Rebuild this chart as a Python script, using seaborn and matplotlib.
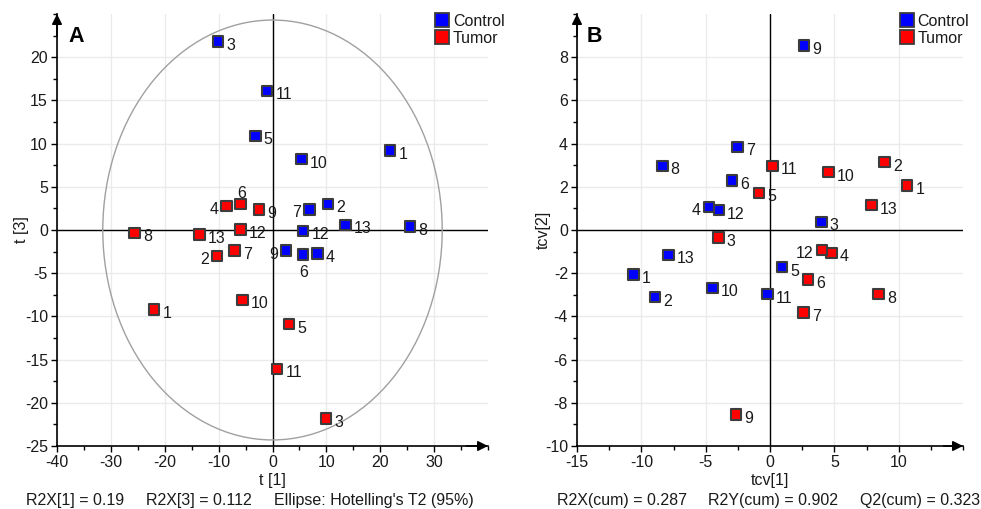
import matplotlib
matplotlib.use("Agg")
import matplotlib.pyplot as plt
from matplotlib.lines import Line2D
from matplotlib.patches import Ellipse
from matplotlib.ticker import MultipleLocator
import seaborn as sns
import pandas as pd

# ---------------- data ----------------
ids = list(range(1, 14))

# Panel A: PCA scores t[1] vs t[3]
a_ctrl_x = [21.8, 10.3, -10.1, 8.4, -3.2, 5.7, 6.9, 25.5, 2.5, 5.4, -1.0, 5.7, 13.5]
a_ctrl_y = [9.2, 3.0, 21.8, -2.7, 10.9, -2.85, 2.4, 0.4, -2.4, 8.2, 16.1, -0.1, 0.6]
a_tum_x = [-22.0, -10.3, 9.9, -8.5, 3.1, -5.9, -7.0, -25.6, -2.5, -5.6, 0.85, -5.9, -13.5]
a_tum_y = [-9.2, -3.0, -21.8, 2.8, -10.9, 3.0, -2.4, -0.35, 2.4, -8.1, -16.1, 0.05, -0.55]
a_ctrl_pos = ["r", "r", "r", "r", "r", "b", "l", "r", "l", "r", "r", "r", "r"]
a_tum_pos = ["r", "l", "r", "l", "r", "a", "r", "r", "r", "r", "r", "r", "r"]
ellipse_rx = 31.5
ellipse_ry = 24.3
a_xticks = [-40, -30, -20, -10, 0, 10, 20, 30]
a_yticks = [-25, -20, -15, -10, -5, 0, 5, 10, 15, 20]

# Panel B: cross-validated scores tcv[1] vs tcv[2]
b_ctrl_x = [-10.6, -8.94, 4.0, -4.75, 0.93, -2.95, -2.53, -8.37, 2.64, -4.47, -0.18, -3.98, -7.88]
b_ctrl_y = [-2.06, -3.11, 0.38, 1.06, -1.72, 2.3, 3.85, 2.97, 8.54, -2.68, -2.97, 0.92, -1.15]
b_tum_x = [10.65, 8.91, -4.0, 4.8, -0.85, 2.95, 2.59, 8.43, -2.64, 4.53, 0.21, 4.03, 7.9]
b_tum_y = [2.07, 3.14, -0.36, -1.06, 1.72, -2.29, -3.83, -2.97, -8.54, 2.68, 2.97, -0.92, 1.15]
b_ctrl_pos = ["r", "r", "r", "l", "r", "r", "r", "r", "r", "r", "r", "r", "r"]
b_tum_pos = ["r", "r", "r", "r", "r", "r", "r", "r", "r", "r", "r", "l", "r"]
b_xticks = [-15, -10, -5, 0, 5, 10]
b_yticks = [-10, -8, -6, -4, -2, 0, 2, 4, 6, 8]

groups = ["Control", "Tumor"]
colors = {"Control": "#0000FF", "Tumor": "#FF0000"}

a_text = ["R2X[1] = 0.19", "R2X[3] = 0.112", "Ellipse: Hotelling's T2 (95%)"]
b_text = ["R2X(cum) = 0.287", "R2Y(cum) = 0.902", "Q2(cum) = 0.323"]


def make_df(cx, cy, cpos, tx, ty, tpos):
    rows = []
    for i, x, y, p in zip(ids, cx, cy, cpos):
        rows.append(dict(x=x, y=y, group="Control", id=i, pos=p))
    for i, x, y, p in zip(ids, tx, ty, tpos):
        rows.append(dict(x=x, y=y, group="Tumor", id=i, pos=p))
    return pd.DataFrame(rows)


df_a = make_df(a_ctrl_x, a_ctrl_y, a_ctrl_pos, a_tum_x, a_tum_y, a_tum_pos)
df_b = make_df(b_ctrl_x, b_ctrl_y, b_ctrl_pos, b_tum_x, b_tum_y, b_tum_pos)

# ---------------- style ----------------
sns.set_theme(style="white")
plt.rcParams["font.family"] = ["Liberation Sans", "DejaVu Sans"]
plt.rcParams["axes.unicode_minus"] = False
FS = 11.5
TXT = "#1a1a1a"

fig = plt.figure(figsize=(9.81, 5.09), dpi=100)
axA = fig.add_axes([57 / 981, 63 / 509, 431 / 981, 432 / 509])
axB = fig.add_axes([577 / 981, 63 / 509, 386 / 981, 432 / 509])

offsets = {"r": (6.0, -2.8, "left", "center"),
           "l": (-6.0, -2.6, "right", "center"),
           "a": (0.5, 7.5, "center", "center"),
           "b": (0.5, -13.0, "center", "center")}


def style_axes(ax, xlim, ylim, xticks, xmin, yticks, ymin, xlab, ylab,
               letter, ypad):
    ax.set_xlim(*xlim)
    ax.set_ylim(*ylim)
    ax.set_xticks(xticks)
    ax.set_yticks(yticks)
    ax.xaxis.set_minor_locator(MultipleLocator(xmin))
    ax.yaxis.set_minor_locator(MultipleLocator(ymin))
    for s in ["top", "right"]:
        ax.spines[s].set_visible(False)
    for s in ["left", "bottom"]:
        ax.spines[s].set_color("black")
        ax.spines[s].set_linewidth(1.2)
    ax.grid(True, which="major", color="#ebebeb", lw=1.0, zorder=0)
    ax.set_axisbelow(True)
    ax.axhline(0, color="black", lw=1.0, zorder=1)
    ax.axvline(0, color="black", lw=1.0, zorder=1)
    ax.tick_params(which="major", direction="out", length=4.5, width=1.0,
                   color="black", labelsize=FS, labelcolor=TXT, pad=2,
                   bottom=True, left=True)
    ax.tick_params(which="minor", direction="out", length=2.8, width=1.0,
                   color="black", bottom=True, left=True)
    ax.set_xlabel(xlab, fontsize=FS, color=TXT, labelpad=2)
    ax.set_ylabel(ylab, fontsize=FS, color=TXT, labelpad=ypad)
    ax.text(0.026, 0.948, letter, transform=ax.transAxes, fontsize=15.5,
            fontweight="bold", color="black", va="center", ha="left")
    # arrow heads
    ax.annotate("", xy=(1.0, 0), xytext=(0.95, 0), xycoords="axes fraction",
                arrowprops=dict(arrowstyle="-|>", color="black", lw=1.2,
                                mutation_scale=15, shrinkA=0, shrinkB=0),
                annotation_clip=False)
    ax.annotate("", xy=(0, 1.0), xytext=(0, 0.95), xycoords="axes fraction",
                arrowprops=dict(arrowstyle="-|>", color="black", lw=1.2,
                                mutation_scale=15, shrinkA=0, shrinkB=0),
                annotation_clip=False)


def draw_points(ax, df):
    sns.scatterplot(data=df, x="x", y="y", hue="group", palette=colors,
                    hue_order=groups, marker="s", s=58, edgecolor="#3c3c3c",
                    linewidth=1.5, legend=False, ax=ax, zorder=3)
    for _, r in df.iterrows():
        dx, dy, ha, va = offsets[r["pos"]]
        ax.annotate(str(r["id"]), (r["x"], r["y"]), xytext=(dx, dy),
                    textcoords="offset points", ha=ha, va=va, fontsize=FS,
                    color=TXT, zorder=4)


def add_legend(ax, xfig, yfig):
    handles = [Line2D([], [], ls="none", marker="s", markersize=9.5,
                      markerfacecolor=colors[g], markeredgecolor="#3c3c3c",
                      markeredgewidth=1.3) for g in groups]
    ax.legend(handles, groups, loc="upper left", bbox_to_anchor=(xfig, yfig),
              bbox_transform=fig.transFigure, frameon=False, borderpad=0,
              borderaxespad=0, handlelength=0.95, handletextpad=0.2,
              labelspacing=0.12, fontsize=FS, labelcolor=TXT)


# Panel A
style_axes(axA, (-40, 40), (-25, 25), a_xticks, 5, a_yticks, 2.5,
           "t [1]", "t [3]", "A", -3)
axA.add_patch(Ellipse((0, 0), 2 * ellipse_rx, 2 * ellipse_ry, fill=False,
                      edgecolor="#a0a0a0", lw=1.0, zorder=2))
draw_points(axA, df_a)
add_legend(axA, 434.5 / 981, 1 - 14 / 509)

# Panel B
style_axes(axB, (-15, 15), (-10, 10), b_xticks, 2.5, b_yticks, 1,
           "tcv[1]", "tcv[2]", "B", -4)
draw_points(axB, df_b)
add_legend(axB, 899 / 981, 1 - 14 / 509)

# Bottom statistics text
for t, xp in zip(a_text, [26, 145.7, 274]):
    fig.text(xp / 981, 1 - 500 / 509, t, fontsize=FS, color=TXT,
             ha="left", va="center")
for t, xp in zip(b_text, [556.7, 708.3, 860]):
    fig.text(xp / 981, 1 - 500 / 509, t, fontsize=FS, color=TXT,
             ha="left", va="center")

fig.savefig("out.png", dpi=100)
